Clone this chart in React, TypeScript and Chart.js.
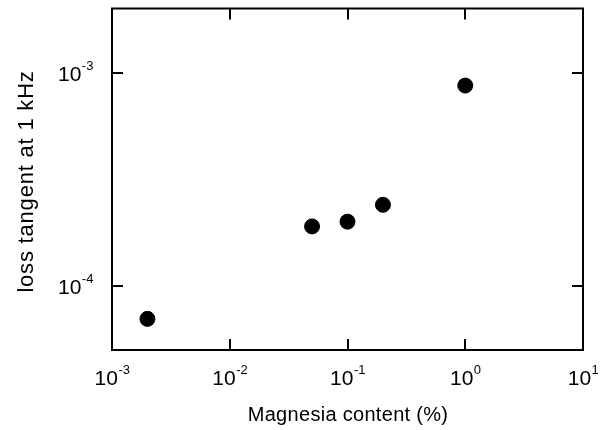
import React, { useEffect, useRef } from "react";
import { Chart, registerables } from "chart.js";

Chart.register(...registerables);

const magnesiaContent = [0.002, 0.05, 0.1, 0.2, 1.0];
const lossTangent = [7.0e-5, 1.9e-4, 2.0e-4, 2.4e-4, 8.7e-4];
const xTickExponents = [-3, -2, -1, 0, 1];
const yTickExponents = [-4, -3];
const xTitle = "Magnesia content (%)";
const yTitle = "loss tangent at 1 kHz";

const FONT = "'Liberation Sans', Arial, Helvetica, sans-serif";

const framePlugin = {
  id: "framePlugin",
  afterDraw(chart: any) {
    const ctx = chart.ctx as CanvasRenderingContext2D;
    const { left, right, top, bottom } = chart.chartArea;
    const xs = chart.scales.x;
    const ys = chart.scales.y;
    ctx.save();
    ctx.strokeStyle = "#000";
    ctx.lineWidth = 2;
    ctx.strokeRect(left, top, right - left, bottom - top);
    const tickLen = 11;
    ctx.beginPath();
    xTickExponents.forEach((e) => {
      const px = Math.round(xs.getPixelForValue(Math.pow(10, e)));
      ctx.moveTo(px, bottom);
      ctx.lineTo(px, bottom - tickLen);
      ctx.moveTo(px, top);
      ctx.lineTo(px, top + tickLen);
    });
    yTickExponents.forEach((e) => {
      const py = Math.round(ys.getPixelForValue(Math.pow(10, e)));
      ctx.moveTo(left, py);
      ctx.lineTo(left + tickLen, py);
      ctx.moveTo(right, py);
      ctx.lineTo(right - tickLen, py);
    });
    ctx.stroke();

    ctx.fillStyle = "#000";
    const baseFont = `21px ${FONT}`;
    const supFont = `13px ${FONT}`;
    const drawPow = (e: number, x: number, baseline: number, align: "center" | "left") => {
      const sup = e < 0 ? "-" + Math.abs(e) : String(e);
      ctx.font = baseFont;
      const wBase = ctx.measureText("10").width;
      ctx.font = supFont;
      const wSup = ctx.measureText(sup).width;
      const total = wBase + wSup;
      const x0 = align === "center" ? x - total / 2 : x;
      ctx.textAlign = "left";
      ctx.textBaseline = "alphabetic";
      ctx.font = baseFont;
      ctx.fillText("10", x0, baseline);
      ctx.font = supFont;
      ctx.fillText(sup, x0 + wBase + 0.5, baseline - 11);
    };
    xTickExponents.forEach((e) => {
      const px = xs.getPixelForValue(Math.pow(10, e));
      drawPow(e, px, bottom + 35, "center");
    });
    yTickExponents.forEach((e) => {
      const py = ys.getPixelForValue(Math.pow(10, e));
      drawPow(e, 58, py + 8, "left");
    });

    (ctx as any).letterSpacing = "0.3px";
    ctx.font = `20px ${FONT}`;
    ctx.textAlign = "center";
    ctx.textBaseline = "alphabetic";
    ctx.fillText(xTitle, (left + right) / 2 + 0.5, 421);
    ctx.save();
    (ctx as any).letterSpacing = "0.8px";
    ctx.translate(33, 181.5);
    ctx.rotate(-Math.PI / 2);
    ctx.font = `22px ${FONT}`;
    ctx.fillText(yTitle, 0, 0);
    ctx.restore();
    (ctx as any).letterSpacing = "0px";
    ctx.restore();
  },
};

export default function App() {
  const canvasRef = useRef<HTMLCanvasElement | null>(null);

  useEffect(() => {
    if (!canvasRef.current) return;
    const chart = new Chart(canvasRef.current, {
      type: "scatter",
      data: {
        datasets: [
          {
            data: magnesiaContent.map((x, i) => ({ x, y: lossTangent[i] })),
            backgroundColor: "#000",
            borderColor: "#000",
            pointRadius: 7.5,
            pointHoverRadius: 7.5,
          },
        ],
      },
      options: {
        responsive: false,
        animation: false,
        layout: { padding: { left: 112, top: 7, right: 26, bottom: 80 } },
        plugins: { legend: { display: false }, tooltip: { enabled: false } },
        scales: {
          x: { type: "logarithmic", min: 1e-3, max: 10, display: false },
          y: { type: "logarithmic", min: 5e-5, max: 2e-3, display: false },
        },
      },
      plugins: [framePlugin],
    });
    return () => chart.destroy();
  }, []);

  return (
    <div style={{ position: "absolute", left: 0, top: 0, width: 609, height: 430, background: "#fff" }}>
      <canvas ref={canvasRef} width={609} height={430} style={{ width: 609, height: 430 }} />
    </div>
  );
}
